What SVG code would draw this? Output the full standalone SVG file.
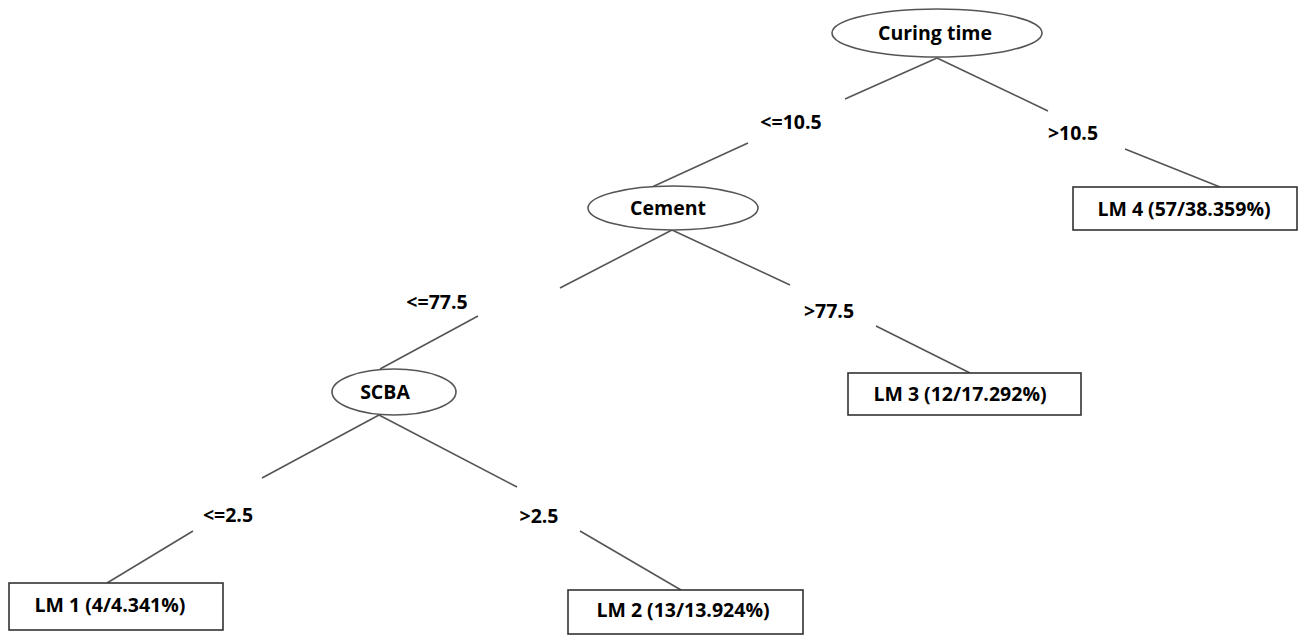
<svg xmlns="http://www.w3.org/2000/svg" width="1307" height="636" viewBox="0 0 1307 636">
<style>
.bg{fill:#fff}
.ell{fill:#fff;stroke:#555;stroke-width:1.6}
.box{fill:#fff;stroke:#333;stroke-width:1.6}
.edge{stroke:#555;stroke-width:1.6;fill:none}
text{font-family:"Open Sans","Liberation Sans",sans-serif;font-weight:bold;fill:#000;text-anchor:middle}
.n{font-size:19.5px}
.l{font-size:19.5px}
</style>
<rect class="bg" x="0" y="0" width="1307" height="636"/>
<g id="connectors">
<line class="edge" x1="937" y1="58" x2="845" y2="99"/>
<line class="edge" x1="937" y1="58" x2="1048" y2="111"/>
<line class="edge" x1="748" y1="143" x2="652" y2="187"/>
<line class="edge" x1="1125" y1="149" x2="1220" y2="187"/>
<line class="edge" x1="672" y1="230" x2="560" y2="288"/>
<line class="edge" x1="672" y1="230" x2="790" y2="285"/>
<line class="edge" x1="478" y1="316" x2="380" y2="369"/>
<line class="edge" x1="876" y1="326" x2="970" y2="373"/>
<line class="edge" x1="379" y1="415" x2="262" y2="478"/>
<line class="edge" x1="379" y1="415" x2="517" y2="487"/>
<line class="edge" x1="193" y1="531" x2="107" y2="583"/>
<line class="edge" x1="580" y1="531" x2="681" y2="590"/>
<text class="l" x="791" y="129">&lt;=10.5</text>
<text class="l" x="1073" y="140">&gt;10.5</text>
<text class="l" x="437" y="309">&lt;=77.5</text>
<text class="l" x="829" y="318">&gt;77.5</text>
<text class="l" x="228" y="522">&lt;=2.5</text>
<text class="l" x="539" y="523">&gt;2.5</text>
</g>
<g id="curing">
<ellipse class="ell" cx="937" cy="33" rx="105" ry="24"/>
<text class="n" x="935" y="40">Curing time</text>
</g>
<g id="cement">
<ellipse class="ell" cx="673" cy="208" rx="85" ry="22"/>
<text class="n" x="668" y="215">Cement</text>
</g>
<g id="scba">
<ellipse class="ell" cx="394" cy="392" rx="62" ry="23"/>
<text class="n" x="385" y="399">SCBA</text>
</g>
<g id="lm4">
<rect class="box" x="1073" y="187" width="224" height="43"/>
<text class="n" x="1184" y="216">LM 4 (57/38.359%)</text>
</g>
<g id="lm3">
<rect class="box" x="848" y="373" width="233" height="42"/>
<text class="n" x="960" y="401">LM 3 (12/17.292%)</text>
</g>
<g id="lm1">
<rect class="box" x="9" y="583" width="214" height="47"/>
<text class="n" x="110" y="612">LM 1 (4/4.341%)</text>
</g>
<g id="lm2">
<rect class="box" x="568" y="590" width="235" height="44"/>
<text class="n" x="683" y="617">LM 2 (13/13.924%)</text>
</g>
</svg>
